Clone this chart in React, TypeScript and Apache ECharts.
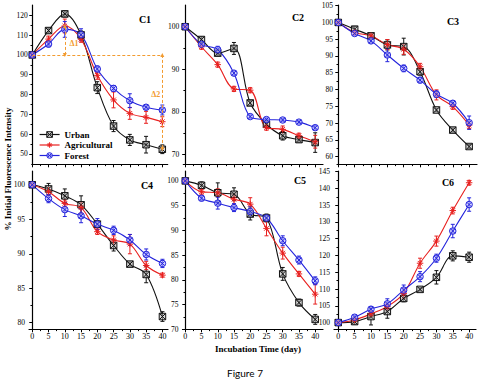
import React, { useEffect, useRef } from "react";
import * as echarts from "echarts";

// ---------- data ----------
const days = [0, 5, 10, 15, 20, 25, 30, 35, 40];
const xTickLabels = [0, 5, 10, 15, 20, 25, 30, 35, 40];
const xMinorTicks = [2.5, 7.5, 12.5, 17.5, 22.5, 27.5, 32.5, 37.5];

const seriesNames = ["Urban", "Agricultural", "Forest"];
const panelNames = ["C1", "C2", "C3", "C4", "C5", "C6"];

const c1Urban = [100, 112.3, 120.7, 110.1, 83.5, 64.1, 57.1, 54.7, 52.4];
const c1UrbanErr = [0.5, 1.2, 1.5, 2, 3, 2.8, 2.8, 4.2, 2.2];
const c1Agri = [100, 108.0, 114.6, 107.9, 89.7, 77.3, 70.5, 68.5, 66.3];
const c1AgriErr = [0.5, 1.5, 3.5, 1.5, 2, 4, 3, 3, 2.5];
const c1Forest = [100, 105.5, 112.9, 110.2, 92.9, 83.1, 76.9, 73.6, 72.2];
const c1ForestErr = [0.5, 1.5, 4, 3, 1.5, 1.5, 3.5, 1.2, 2.5];

const c2Urban = [100, 97.0, 93.8, 94.9, 82.1, 77.1, 74.4, 73.5, 72.8];
const c2UrbanErr = [0.3, 0.6, 0.6, 1.4, 0.6, 0.8, 1.0, 0.6, 2.3];
const c2Agri = [100, 95.3, 91.1, 85.4, 85.1, 76.3, 75.9, 74.4, 73.0];
const c2AgriErr = [0.3, 0.6, 0.6, 0.6, 0.6, 0.6, 0.8, 0.6, 1.5];
const c2Forest = [100, 95.9, 94.6, 89.1, 78.9, 78.2, 78.1, 77.6, 76.3];
const c2ForestErr = [0.3, 0.6, 0.8, 0.5, 0.4, 0.4, 0.4, 0.4, 0.5];

const c3Urban = [100, 98.0, 96.0, 93.3, 92.8, 85.3, 73.9, 67.9, 63.0];
const c3UrbanErr = [0.3, 0.8, 0.6, 1.5, 2.5, 1, 0.5, 0.6, 0.6];
const c3Agri = [100, 97.0, 96.0, 93.4, 92.0, 86.8, 78.4, 74.9, 69.4];
const c3AgriErr = [0.3, 0.6, 0.5, 1.5, 1.5, 1, 1.5, 0.8, 1];
const c3Forest = [100, 96.7, 94.5, 90.3, 86.3, 82.8, 78.6, 75.9, 70.1];
const c3ForestErr = [0.3, 0.5, 0.6, 2, 1, 0.8, 1, 0.8, 2];

const c4Urban = [100, 99.4, 98.4, 97.1, 94.3, 91.2, 88.5, 87.0, 80.9];
const c4UrbanErr = [0.2, 0.8, 1, 1.3, 0.5, 0.8, 0.3, 1.2, 0.7];
const c4Agri = [100, 99.0, 97.3, 96.7, 93.2, 92.0, 91.4, 88.3, 86.9];
const c4AgriErr = [0.2, 0.6, 0.5, 0.8, 0.4, 0.6, 1.4, 0.6, 0.3];
const c4Forest = [100, 98.0, 96.4, 95.5, 94.3, 93.4, 92.0, 89.9, 88.6];
const c4ForestErr = [0.2, 0.6, 1, 1, 0.8, 0.6, 0.8, 0.8, 0.6];

const c5Urban = [100, 99.1, 97.6, 97.3, 93.3, 92.5, 81.2, 75.4, 72.0];
const c5UrbanErr = [0.2, 0.7, 2, 1.3, 1.2, 0.8, 1.3, 0.7, 1];
const c5Agri = [100, 97.8, 97.6, 96.3, 95.3, 90.4, 85.4, 81.2, 77.1];
const c5AgriErr = [0.2, 0.5, 0.8, 1, 1.3, 1.5, 1.2, 0.5, 2];
const c5Forest = [100, 96.5, 95.5, 94.6, 93.8, 92.5, 87.9, 84.0, 79.8];
const c5ForestErr = [0.2, 0.5, 1.2, 0.8, 1, 0.6, 1, 0.8, 0.8];

const c6Urban = [100, 100.3, 101.8, 103.3, 107.2, 109.9, 113.5, 119.9, 119.5];
const c6UrbanErr = [0.5, 0.8, 2.5, 2, 1, 0.5, 2, 1.5, 1.5];
const c6Agri = [100, 100.8, 102.6, 104.8, 108.7, 117.7, 124.3, 133.4, 141.7];
const c6AgriErr = [0.3, 0.5, 0.8, 1, 1.5, 1.5, 1.5, 1, 0.7];
const c6Forest = [100, 101.6, 104.0, 105.6, 109.7, 113.7, 119.2, 127.3, 135.2];
const c6ForestErr = [0.3, 0.6, 0.8, 1.5, 1.5, 1.5, 1.2, 2, 2];

const c1YTicks = [50, 60, 70, 80, 90, 100, 110, 120];
const c2YTicks = [70, 80, 90, 100];
const c3YTicks = [60, 65, 70, 75, 80, 85, 90, 95, 100, 105];
const c4YTicks = [80, 85, 90, 95, 100];
const c5YTicks = [70, 75, 80, 85, 90, 95, 100];
const c6YTicks = [100, 105, 110, 115, 120, 125, 130, 135, 140, 145];

// annotation values (C1)
const refLevel = 100;
const delta1Day = 10;
const delta1Top = 114.6;
const delta2Day = 40;
const delta2Bottom = 52.4;

// ---------- assembly ----------
const panelValues = [
  [c1Urban, c1Agri, c1Forest],
  [c2Urban, c2Agri, c2Forest],
  [c3Urban, c3Agri, c3Forest],
  [c4Urban, c4Agri, c4Forest],
  [c5Urban, c5Agri, c5Forest],
  [c6Urban, c6Agri, c6Forest],
];
const panelErrors = [
  [c1UrbanErr, c1AgriErr, c1ForestErr],
  [c2UrbanErr, c2AgriErr, c2ForestErr],
  [c3UrbanErr, c3AgriErr, c3ForestErr],
  [c4UrbanErr, c4AgriErr, c4ForestErr],
  [c5UrbanErr, c5AgriErr, c5ForestErr],
  [c6UrbanErr, c6AgriErr, c6ForestErr],
];
const panelYTicks = [c1YTicks, c2YTicks, c3YTicks, c4YTicks, c5YTicks, c6YTicks];

const layout = [
  { left: 31.7, top: 5, width: 136, height: 159.3, xMin: -0.18, xMax: 41.66, yMin: 44.8, yMax: 125.2, lx: 145, ly: 19, xLabels: false },
  { left: 183.3, top: 5, width: 139.7, height: 159.3, xMin: -0.58, xMax: 42.4, yMin: 67.7, yMax: 105.1, lx: 298, ly: 17, xLabels: false },
  { left: 337, top: 5, width: 140, height: 159.3, xMin: -0.4, xMax: 42.4, yMin: 57.7, yMax: 105.2, lx: 453, ly: 21, xLabels: false },
  { left: 29, top: 171, width: 139, height: 158.3, xMin: -1.0, xMax: 41.7, yMin: 79.05, yMax: 102, lx: 147, ly: 185, xLabels: true },
  { left: 182.5, top: 171, width: 140.5, height: 158.3, xMin: -0.86, xMax: 42.4, yMin: 70, yMax: 102, lx: 300, ly: 180, xLabels: true },
  { left: 334, top: 171, width: 142, height: 158.3, xMin: -1.3, xMax: 42.1, yMin: 98, yMax: 145.2, lx: 448, ly: 182, xLabels: true },
];

const SERIF = '"Liberation Serif", "Times New Roman", serif';
const ORANGE = "#f29b30";
const lineColors = ["#111111", "#e8201f", "#2424dc"];
const fillColors = ["rgba(190,190,190,0.55)", "rgba(255,170,170,0.4)", "rgba(185,185,255,0.6)"];
const symbols = [
  "path://M0,0 L10,0 L10,10 L0,10 Z M0,0 L10,10 M10,0 L0,10",
  "path://M1.5,1.5 L8.5,8.5 M8.5,1.5 L1.5,8.5 M5,0 L5,10 M0,5 L10,5",
  "path://M10,5 A5,5 0 1,1 0,5 A5,5 0 1,1 10,5 Z M1.6,1.6 L8.4,8.4 M8.4,1.6 L1.6,8.4",
];

function midpoints(ticks: number[]) {
  const out: number[] = [];
  for (let i = 0; i < ticks.length - 1; i++) out.push((ticks[i] + ticks[i + 1]) / 2);
  return out;
}

function buildOption() {
  const grid: any[] = [];
  const xAxis: any[] = [];
  const yAxis: any[] = [];
  const series: any[] = [];
  const graphic: any[] = [];

  layout.forEach((L, i) => {
    grid.push({ left: L.left, top: L.top, width: L.width, height: L.height, containLabel: false, outerBoundsMode: "none" });
    const axisLine = { show: true, lineStyle: { color: "#000", width: 1.2 } };
    xAxis.push({
      type: "value", gridIndex: i, min: L.xMin, max: L.xMax, position: "bottom",
      axisLine, splitLine: { show: false },
      axisTick: { show: true, customValues: xTickLabels, length: 3, lineStyle: { color: "#000", width: 1 } },
      axisLabel: { show: L.xLabels, customValues: xTickLabels, fontFamily: SERIF, fontSize: 8, color: "#000", margin: 3 },
    });
    xAxis.push({
      type: "value", gridIndex: i, min: L.xMin, max: L.xMax, position: "bottom",
      axisLine: { show: false }, splitLine: { show: false },
      axisTick: { show: true, customValues: xMinorTicks, length: 1.8, lineStyle: { color: "#000", width: 1 } },
      axisLabel: { show: false },
    });
    const yt = panelYTicks[i];
    yAxis.push({
      type: "value", gridIndex: i, min: L.yMin, max: L.yMax, position: "left",
      axisLine, splitLine: { show: false },
      axisTick: { show: true, customValues: yt, length: 3, lineStyle: { color: "#000", width: 1 } },
      axisLabel: { show: true, customValues: yt, fontFamily: SERIF, fontSize: 7.5, color: "#000", margin: 4 },
    });
    yAxis.push({
      type: "value", gridIndex: i, min: L.yMin, max: L.yMax, position: "left",
      axisLine: { show: false }, splitLine: { show: false },
      axisTick: { show: true, customValues: midpoints(yt), length: 1.8, lineStyle: { color: "#000", width: 1 } },
      axisLabel: { show: false },
    });

    for (let s = 0; s < 3; s++) {
      const vals = panelValues[i][s];
      const errs = panelErrors[i][s];
      const color = lineColors[s];
      series.push({
        type: "custom", name: seriesNames[s] + " err", xAxisIndex: 2 * i, yAxisIndex: 2 * i,
        silent: true, z: 1,
        encode: { x: 0, y: 1 },
        data: days.map((d, k) => [d, vals[k], errs[k]]),
        renderItem: (params: any, api: any) => {
          const x = api.value(0), y = api.value(1), e = api.value(2);
          const top = api.coord([x, y + e]);
          const bot = api.coord([x, y - e]);
          const cap = 2;
          const st = { stroke: color, lineWidth: 1 };
          return {
            type: "group",
            children: [
              { type: "line", shape: { x1: top[0], y1: top[1], x2: bot[0], y2: bot[1] }, style: st },
              { type: "line", shape: { x1: top[0] - cap, y1: top[1], x2: top[0] + cap, y2: top[1] }, style: st },
              { type: "line", shape: { x1: bot[0] - cap, y1: bot[1], x2: bot[0] + cap, y2: bot[1] }, style: st },
            ],
          };
        },
      });
      const lineSeries: any = {
        type: "line", name: seriesNames[s], xAxisIndex: 2 * i, yAxisIndex: 2 * i,
        data: days.map((d, k) => [d, vals[k]]),
        smooth: 0.35, z: 3,
        symbol: symbols[s], symbolSize: 6.5, showAllSymbol: true,
        lineStyle: { color, width: 1.1 },
        itemStyle: { color: fillColors[s], borderColor: color, borderWidth: 1 },
        emphasis: { disabled: true },
      };
      if (i === 0 && s === 0) {
        lineSeries.markLine = {
          silent: true, animation: false,
          symbol: ["none", "none"], symbolSize: 5,
          lineStyle: { color: ORANGE, type: [3, 2], width: 1 },
          label: { show: false },
          emphasis: { disabled: true },
          data: [
            [{ coord: [0, refLevel] }, { coord: [delta2Day, refLevel] }],
            [{ coord: [delta1Day, refLevel], symbol: "triangle", symbolSize: 4, symbolRotate: 180 }, { coord: [delta1Day, delta1Top], symbol: "triangle", symbolSize: 4 }],
            [{ coord: [delta2Day, refLevel], symbol: "triangle", symbolSize: 4 }, { coord: [delta2Day, delta2Bottom], symbol: "triangle", symbolSize: 4 }],
          ],
        };
        lineSeries.markPoint = {
          silent: true, animation: false,
          symbol: "circle", symbolSize: 1,
          itemStyle: { color: "rgba(0,0,0,0)" },
          label: { show: true, position: "inside", formatter: "{b}", color: ORANGE, fontFamily: SERIF, fontWeight: "bold", fontSize: 8 },
          data: [
            { name: "Δ1", coord: [12.8, 106] },
            { name: "Δ2", coord: [38.0, 79.8] },
          ],
        };
      }
      series.push(lineSeries);
    }

    graphic.push({
      type: "text", x: L.lx, y: L.ly, z: 10,
      style: { text: panelNames[i], font: `bold 10px ${SERIF}`, fill: "#000", align: "center", verticalAlign: "middle" },
    });
  });

  graphic.push({
    type: "text", x: 8, y: 169, rotation: Math.PI / 2, z: 10,
    style: { text: "% Initial Fluorescence Intensity", font: `bold 9px ${SERIF}`, fill: "#000", align: "center", verticalAlign: "middle" },
  });
  graphic.push({
    type: "text", x: 258, y: 349, z: 10,
    style: { text: "Incubation Time (day)", font: `bold 9px ${SERIF}`, fill: "#000", align: "center", verticalAlign: "middle" },
  });
  graphic.push({
    type: "text", x: 245, y: 373, z: 10,
    style: { text: "Figure 7", font: `10px Lato, "Open Sans", sans-serif`, fill: "#000", align: "center", verticalAlign: "middle" },
  });

  return {
    animation: false,
    backgroundColor: "#ffffff",
    grid, xAxis, yAxis, series, graphic,
    legend: {
      data: seriesNames.map((n, s) => ({
        name: n,
        itemStyle: { color: fillColors[s], borderColor: lineColors[s], borderWidth: 1 },
        lineStyle: { color: lineColors[s], width: 1.2 },
      })),
      orient: "vertical", left: 34, top: 125,
      itemWidth: 20, itemHeight: 7, itemGap: 1.5,
      selectedMode: false,
      textStyle: { fontFamily: SERIF, fontWeight: "bold", fontSize: 9, color: "#000", lineHeight: 9 },
    },
  };
}

export default function App() {
  const ref = useRef<HTMLDivElement>(null);
  useEffect(() => {
    if (!ref.current) return;
    const chart = echarts.init(ref.current, null, { renderer: "svg" });
    chart.setOption(buildOption() as any);
    return () => chart.dispose();
  }, []);
  return (
    <div
      ref={ref}
      style={{ position: "absolute", left: 0, top: 0, width: 486, height: 388, background: "#fff" }}
    />
  );
}
